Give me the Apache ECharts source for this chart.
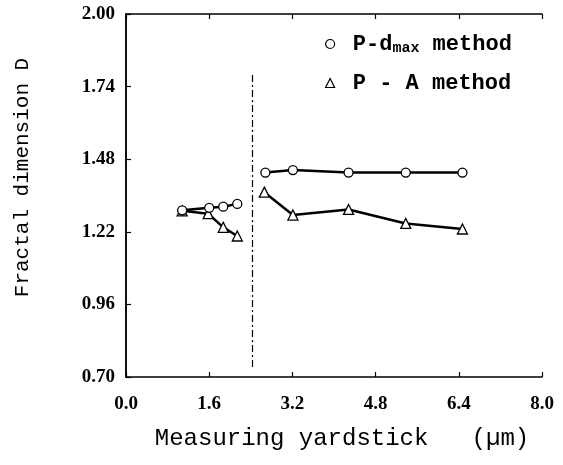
<!DOCTYPE html>
<html lang="en">
<head>
    <meta charset="UTF-8">
    <title>Fractal dimension</title>
    <script src="https://cdn.jsdelivr.net/npm/echarts@6/dist/echarts.min.js"></script>
    <style>
        html, body { margin: 0; padding: 0; background: #fff; }
        #main { width: 563px; height: 465px; }
    </style>
</head>
<body>
<div id="main"></div>
<script>
    // P-dmax method, left group (small yardsticks) and right group
    var pdLeftX = [1.08, 1.60, 1.87, 2.14];
    var pdLeftY = [1.297, 1.306, 1.310, 1.320];
    var pdRightX = [2.68, 3.21, 4.28, 5.38, 6.47];
    var pdRightY = [1.432, 1.441, 1.432, 1.432, 1.432];
    // P - A method
    var paLeftX = [1.08, 1.58, 1.87, 2.14];
    var paLeftY = [1.295, 1.285, 1.236, 1.205];
    var paRightX = [2.66, 3.21, 4.28, 5.38, 6.47];
    var paRightY = [1.362, 1.280, 1.300, 1.250, 1.230];
    // vertical dash-dot separator
    var sepX = 2.43;
    var sepY = [0.736, 1.782];

    var xTicks = [0, 8, 1.6];
    var yTicks = [0.70, 2.00, 0.26];

    function pairs(xs, ys) {
        var out = [];
        for (var i = 0; i < xs.length; i++) out.push([xs[i], ys[i]]);
        return out;
    }
    function joined(x1, y1, x2, y2) {
        return pairs(x1, y1).concat([['-', '-']]).concat(pairs(x2, y2));
    }

    var monoFont = '"Liberation Mono", "DejaVu Sans Mono", monospace';
    var serifFont = '"Liberation Serif", "DejaVu Serif", serif';

    var myChart = echarts.init(document.getElementById('main'), null, {renderer: 'canvas'});

    var option = {
        backgroundColor: '#fff',
        animation: false,
        grid: {left: 126, right: 21, top: 14, bottom: 88},
        legend: {
            orient: 'vertical',
            left: 320,
            top: 26,
            itemWidth: 9,
            itemHeight: 9,
            itemGap: 16,
            itemStyle: {color: '#fff', borderColor: '#000', borderWidth: 1.2},
            data: [
                {name: 'P-dmax method', icon: 'circle'},
                {name: 'P - A method', icon: 'triangle'}
            ],
            formatter: function (name) {
                if (name === 'P-dmax method') return '{a| P-d}{s|max}{a| method}';
                return '{a| P - A method}';
            },
            textStyle: {
                color: '#000',
                rich: {
                    a: {fontFamily: monoFont, fontSize: 22, fontWeight: 'bold', color: '#000', lineHeight: 24},
                    s: {fontFamily: monoFont, fontSize: 15, fontWeight: 'bold', color: '#000', lineHeight: 24, verticalAlign: 'bottom', padding: [10, 0, 0, 0]}
                }
            }
        },
        xAxis: [{
            type: 'value',
            min: xTicks[0], max: xTicks[1], interval: xTicks[2],
            name: 'Measuring yardstick   (\u00b5m)',
            nameLocation: 'middle',
            nameGap: 50,
            nameTextStyle: {fontFamily: monoFont, fontSize: 24, color: '#000', padding: [0, 0, 0, 16]},
            axisLine: {show: true, lineStyle: {color: '#000', width: 1.5}},
            axisTick: {show: true, inside: true, length: 5, lineStyle: {color: '#000', width: 1.2}},
            axisLabel: {margin: 18, color: '#000', fontFamily: serifFont, fontWeight: 'bold', fontSize: 19,
                formatter: function (v) { return v.toFixed(1); }},
            splitLine: {show: false}
        }, {
            type: 'value',
            position: 'top',
            min: xTicks[0], max: xTicks[1], interval: xTicks[2],
            axisLine: {show: true, lineStyle: {color: '#000', width: 1.5}},
            axisTick: {show: true, inside: true, length: 5, lineStyle: {color: '#000', width: 1.2}},
            axisLabel: {show: false},
            splitLine: {show: false}
        }],
        yAxis: [{
            type: 'value',
            min: yTicks[0], max: yTicks[1], interval: yTicks[2],
            name: 'Fractal dimension D',
            nameLocation: 'middle',
            nameGap: 93,
            nameRotate: 90,
            nameTextStyle: {fontFamily: monoFont, fontSize: 21, color: '#000', padding: [0, 0, 0, 36]},
            axisLine: {show: true, lineStyle: {color: '#000', width: 1.5}},
            axisTick: {show: true, inside: true, length: 5, lineStyle: {color: '#000', width: 1.2}},
            axisLabel: {margin: 11, color: '#000', fontFamily: serifFont, fontWeight: 'bold', fontSize: 19,
                formatter: function (v) { return v.toFixed(2); }},
            splitLine: {show: false}
        }, {
            type: 'value',
            position: 'right',
            min: yTicks[0], max: yTicks[1], interval: yTicks[2],
            axisLine: {show: true, lineStyle: {color: '#000', width: 1.5}},
            axisTick: {show: false},
            axisLabel: {show: false},
            splitLine: {show: false}
        }],
        series: [
            {
                name: 'P-dmax method',
                type: 'line',
                symbol: 'circle',
                symbolSize: 9,
                connectNulls: false,
                lineStyle: {color: '#000', width: 2.5},
                itemStyle: {color: '#fff', borderColor: '#000', borderWidth: 1.3},
                z: 3,
                data: joined(pdLeftX, pdLeftY, pdRightX, pdRightY),
                markLine: {
                    silent: true,
                    symbol: 'none',
                    label: {show: false},
                    lineStyle: {color: '#000', width: 1.2, type: [7, 3, 2, 3]},
                    data: [[{coord: [sepX, sepY[0]]}, {coord: [sepX, sepY[1]]}]]
                }
            },
            {
                name: 'P - A method',
                type: 'line',
                symbol: 'triangle',
                symbolSize: 10,
                connectNulls: false,
                lineStyle: {color: '#000', width: 2.5},
                itemStyle: {color: '#fff', borderColor: '#000', borderWidth: 1.3},
                z: 2,
                data: joined(paLeftX, paLeftY, paRightX, paRightY)
            }
        ]
    };

    myChart.setOption(option);
</script>
</body>
</html>
